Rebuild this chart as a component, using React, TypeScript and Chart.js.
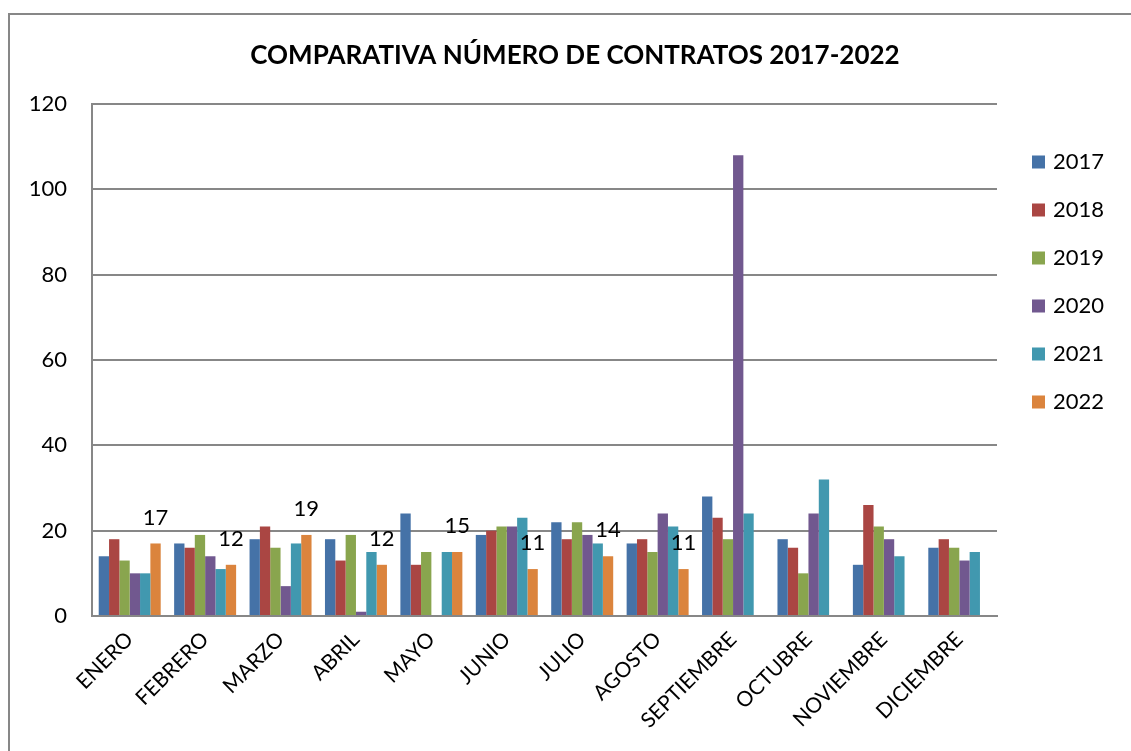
import React, { useEffect, useRef } from "react";
import { Chart, registerables } from "chart.js";

Chart.register(...registerables);

const TITLE = "COMPARATIVA NÚMERO DE CONTRATOS 2017-2022";
const months = ["ENERO", "FEBRERO", "MARZO", "ABRIL", "MAYO", "JUNIO", "JULIO", "AGOSTO", "SEPTIEMBRE", "OCTUBRE", "NOVIEMBRE", "DICIEMBRE"];
const years = ["2017", "2018", "2019", "2020", "2021", "2022"];
const colors = ["#4572A7", "#AA4643", "#89A54E", "#71588F", "#4198AF", "#DB843D"];
const v2017 = [14, 17, 18, 18, 24, 19, 22, 17, 28, 18, 12, 16];
const v2018 = [18, 16, 21, 13, 12, 20, 18, 18, 23, 16, 26, 18];
const v2019 = [13, 19, 16, 19, 15, 21, 22, 15, 18, 10, 21, 16];
const v2020 = [10, 14, 7, 1, null, 21, 19, 24, 108, 24, 18, 13];
const v2021 = [10, 11, 17, 15, 15, 23, 17, 21, 24, 32, 14, 15];
const v2022 = [17, 12, 19, 12, 15, 11, 14, 11, null, null, null, null];
const yTicks = { min: 0, max: 120, step: 20 };

const FONT = "Lato, 'Noto Sans', sans-serif";
const GRID = "#878787";

const decorPlugin = {
  id: "decor",
  beforeDraw(chart: any) {
    const ctx = chart.ctx;
    ctx.save();
    ctx.fillStyle = "#ffffff";
    ctx.fillRect(0, 0, chart.width, chart.height);
    ctx.strokeStyle = GRID;
    ctx.lineWidth = 2;
    ctx.beginPath();
    ctx.moveTo(9, chart.height);
    ctx.lineTo(9, 14);
    ctx.lineTo(chart.width, 14);
    ctx.stroke();
    ctx.restore();
  },
  afterDraw(chart: any) {
    const ctx = chart.ctx;
    ctx.save();
    // title
    ctx.fillStyle = "#000000";
    ctx.font = `bold 26px ${FONT}`;
    ctx.textAlign = "center";
    ctx.textBaseline = "middle";
    ctx.fillText(TITLE, 575, 56);
    // legend
    ctx.font = `22px ${FONT}`;
    ctx.textAlign = "left";
    chart.data.datasets.forEach((ds: any, i: number) => {
      const cy = 162 + i * 48;
      ctx.fillStyle = ds.backgroundColor;
      ctx.fillRect(1032, cy - 6.5, 13, 13);
      ctx.fillStyle = "#000000";
      ctx.fillText(ds.label, 1053, cy);
    });
    // data labels on last series
    const last = chart.data.datasets.length - 1;
    const meta = chart.getDatasetMeta(last);
    ctx.textAlign = "center";
    meta.data.forEach((el: any, i: number) => {
      const v = chart.data.datasets[last].data[i];
      if (v === null || v === undefined) return;
      ctx.fillText(String(v), el.x, el.y - 26);
    });
    ctx.restore();
  },
};

export default function App() {
  const ref = useRef<HTMLCanvasElement>(null);
  useEffect(() => {
    const series = [v2017, v2018, v2019, v2020, v2021, v2022];
    const chart = new Chart(ref.current!, {
      type: "bar",
      data: {
        labels: months,
        datasets: series.map((d, i) => ({
          label: years[i],
          data: d,
          backgroundColor: colors[i],
          borderWidth: 0,
          categoryPercentage: 0.822,
          barPercentage: 1,
        })),
      },
      options: {
        animation: false,
        responsive: true,
        maintainAspectRatio: false,
        layout: { padding: { left: 0, right: 134, top: 104, bottom: 0 } },
        plugins: {
          legend: { display: false },
          title: { display: false },
          tooltip: { enabled: false },
        },
        scales: {
          x: {
            grid: { display: false, drawTicks: false },
            border: { display: true, color: GRID, width: 2 },
            ticks: {
              minRotation: 45,
              maxRotation: 45,
              autoSkip: false,
              padding: 11,
              color: "#000000",
              font: { family: FONT, size: 21 },
            },
            afterFit(scale: any) {
              scale.height = 135;
            },
          },
          y: {
            min: yTicks.min,
            max: yTicks.max,
            grid: { color: GRID, lineWidth: 2, drawTicks: false },
            border: { display: true, color: GRID, width: 2 },
            ticks: {
              stepSize: yTicks.step,
              padding: 25,
              color: "#000000",
              font: { family: FONT, size: 22 },
            },
            afterFit(scale: any) {
              scale.width = 92;
            },
          },
        },
      },
      plugins: [decorPlugin],
    });
    return () => chart.destroy();
  }, []);
  return (
    <div style={{ position: "fixed", left: 0, top: 0, width: 1131, height: 751, background: "#fff" }}>
      <canvas ref={ref} />
    </div>
  );
}
